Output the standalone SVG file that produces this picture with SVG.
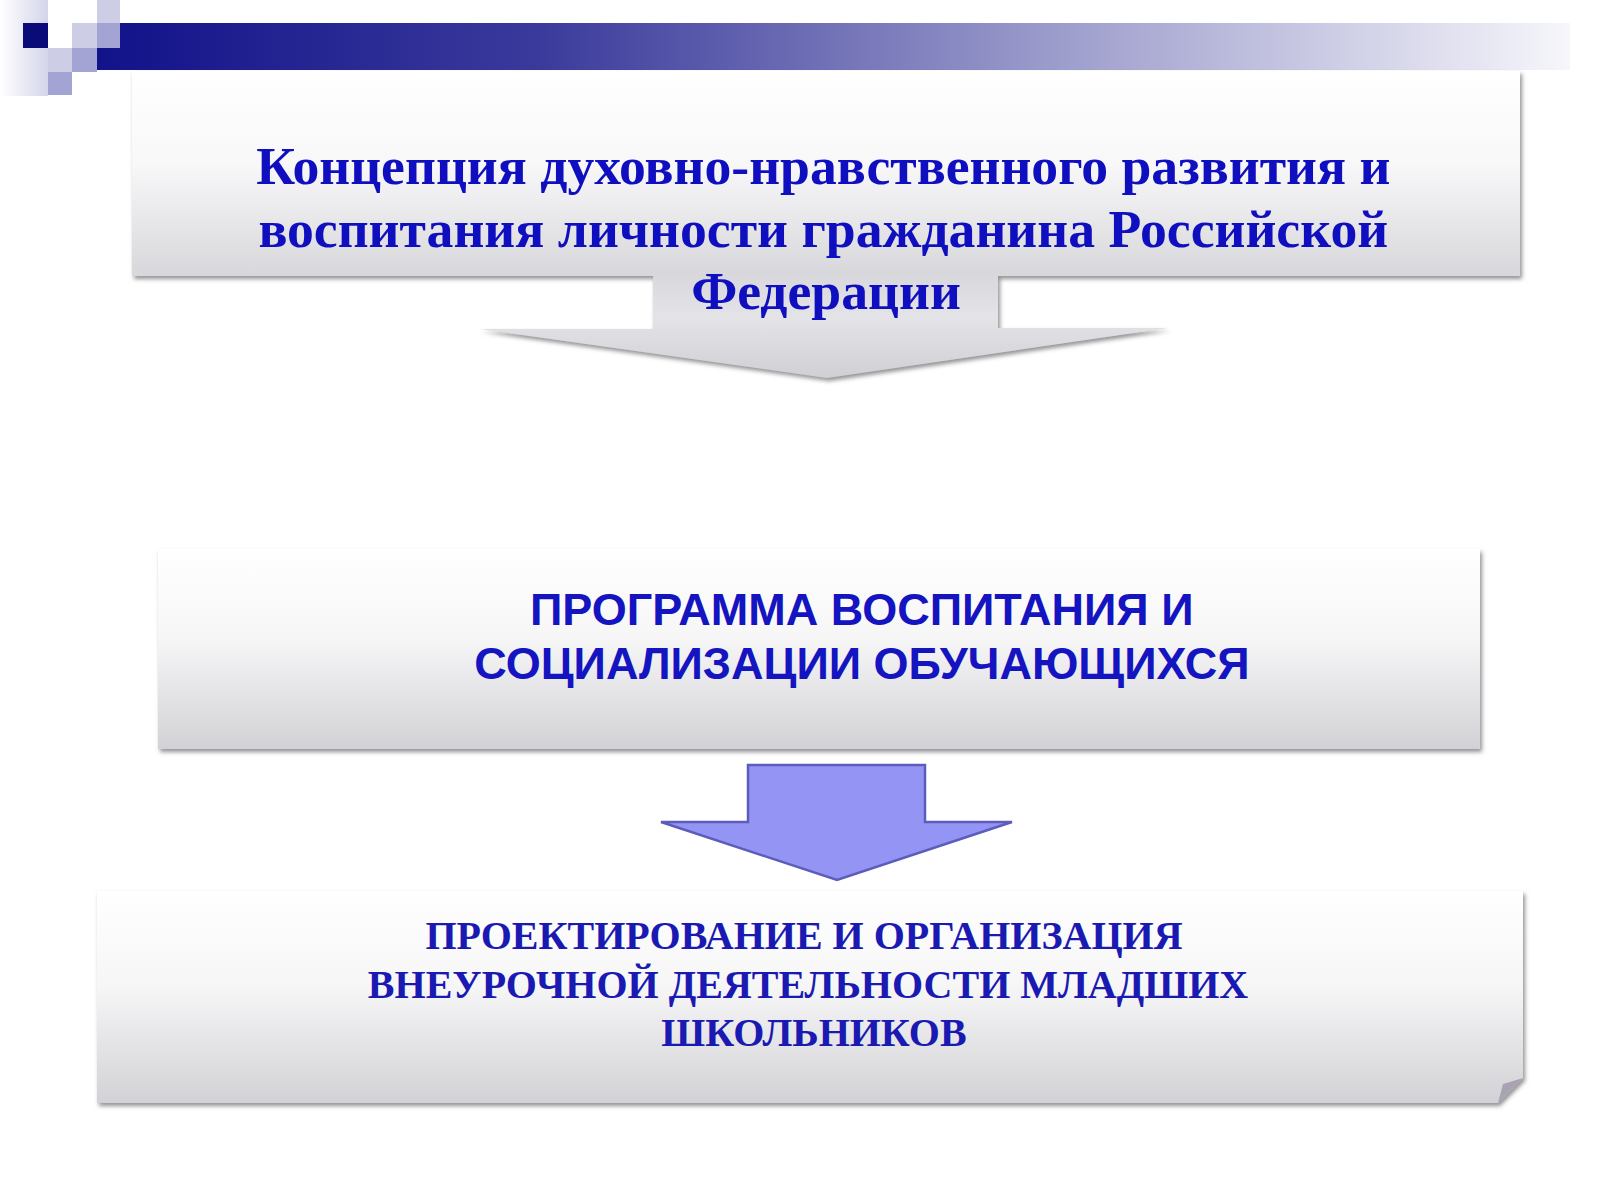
<svg xmlns="http://www.w3.org/2000/svg" width="1600" height="1200" viewBox="0 0 1600 1200">
  <style>
    .serif { font-family: "Liberation Serif", "Times New Roman", serif; font-weight: bold; fill: #0F0FBF; text-anchor: middle; }
    .sans { font-family: "Liberation Sans", Arial, sans-serif; font-weight: bold; fill: #1414C0; text-anchor: middle; }
    .box { fill: url(#boxGrad); filter: url(#shadow); }
    .sq-light { fill: #CDCDE6; }
    .sq-mid { fill: #A4A4D4; }
  </style>
  <defs>
    <linearGradient id="barGrad" x1="0" y1="0" x2="1" y2="0">
      <stop offset="0" stop-color="#12128A"/>
      <stop offset="0.3" stop-color="#3A3A9C"/>
      <stop offset="0.65" stop-color="#9C9CCC"/>
      <stop offset="1" stop-color="#F6F6FB"/>
    </linearGradient>
    <linearGradient id="leftGrad" x1="0" y1="0" x2="1" y2="0">
      <stop offset="0" stop-color="#FFFFFF"/>
      <stop offset="1" stop-color="#D4D4EA"/>
    </linearGradient>
    <linearGradient id="boxGrad" x1="0" y1="0" x2="0" y2="1">
      <stop offset="0" stop-color="#FFFFFF"/>
      <stop offset="0.45" stop-color="#F6F6F7"/>
      <stop offset="1" stop-color="#D2D2D6"/>
    </linearGradient>
    <linearGradient id="calloutGrad" gradientUnits="userSpaceOnUse" x1="0" y1="71" x2="0" y2="378">
      <stop offset="0" stop-color="#FFFFFF"/>
      <stop offset="0.3" stop-color="#F8F8F9"/>
      <stop offset="0.66" stop-color="#D8D8DC"/>
      <stop offset="0.8" stop-color="#E4E4E8"/>
      <stop offset="1" stop-color="#CFCFD4"/>
    </linearGradient>
    <filter id="shadow" x="-5%" y="-10%" width="110%" height="125%">
      <feDropShadow dx="2" dy="3" stdDeviation="2" flood-color="#6E6E72" flood-opacity="0.75"/>
    </filter>
  </defs>

  <rect x="0" y="0" width="1600" height="1200" fill="#FFFFFF"/>

  <!-- header decoration -->
  <g id="header">
    <rect x="0" y="0" width="48" height="96" fill="url(#leftGrad)"/>
    <rect x="97" y="23" width="1473" height="47" fill="url(#barGrad)"/>
    <rect x="23" y="23" width="25" height="25" fill="#0A0A78"/>
    <rect x="72" y="23" width="25" height="25" class="sq-light"/>
    <rect x="97" y="0" width="23" height="23" class="sq-light"/>
    <rect x="97" y="23" width="23" height="25" class="sq-mid"/>
    <rect x="48" y="48" width="24" height="24" class="sq-light"/>
    <rect x="72" y="48" width="25" height="24" class="sq-mid"/>
    <rect x="48" y="72" width="24" height="23" class="sq-mid"/>
  </g>

  <g id="node-concept">
    <path d="M132,71 H1520 V276 H998 V328 L1168,328 L827,378 L480,329 L653,329 V276 H132 Z" fill="url(#calloutGrad)" filter="url(#shadow)"/>
    <text class="serif" font-size="53.7">
      <tspan x="830" y="184">Концепция духовно-нравственного развития и</tspan>
      <tspan x="830" y="247">воспитания личности гражданина Российской</tspan>
      <tspan x="826" y="309">Федерации</tspan>
    </text>
  </g>

  <g id="node-program">
    <rect x="158" y="549" width="1322" height="200" class="box"/>
    <text class="sans" font-size="45">
      <tspan x="868" y="625">ПРОГРАММА ВОСПИТАНИЯ И</tspan>
      <tspan x="862" y="679">СОЦИАЛИЗАЦИИ ОБУЧАЮЩИХСЯ</tspan>
    </text>
  </g>

  <g id="connectors">
    <path d="M748,765 H925 V822 H1012 L837,880 L661,822 H748 Z" fill="#9494F4" stroke="#5C5CBC" stroke-width="2.5" stroke-linejoin="miter"/>
  </g>

  <g id="node-design">
    <path d="M97,891 H1523 V1078 L1498,1103 H97 Z" class="box"/>
    <path d="M1523,1078 L1498,1103 L1503,1084 Z" fill="#A8A2B2"/>
    <text class="serif" font-size="40" style="fill:#1A1AB2">
      <tspan x="809" y="949">ПРОЕКТИРОВАНИЕ И ОРГАНИЗАЦИЯ</tspan>
      <tspan x="813" y="998">ВНЕУРОЧНОЙ ДЕЯТЕЛЬНОСТИ МЛАДШИХ</tspan>
      <tspan x="814" y="1046">ШКОЛЬНИКОВ</tspan>
    </text>
  </g>
</svg>
